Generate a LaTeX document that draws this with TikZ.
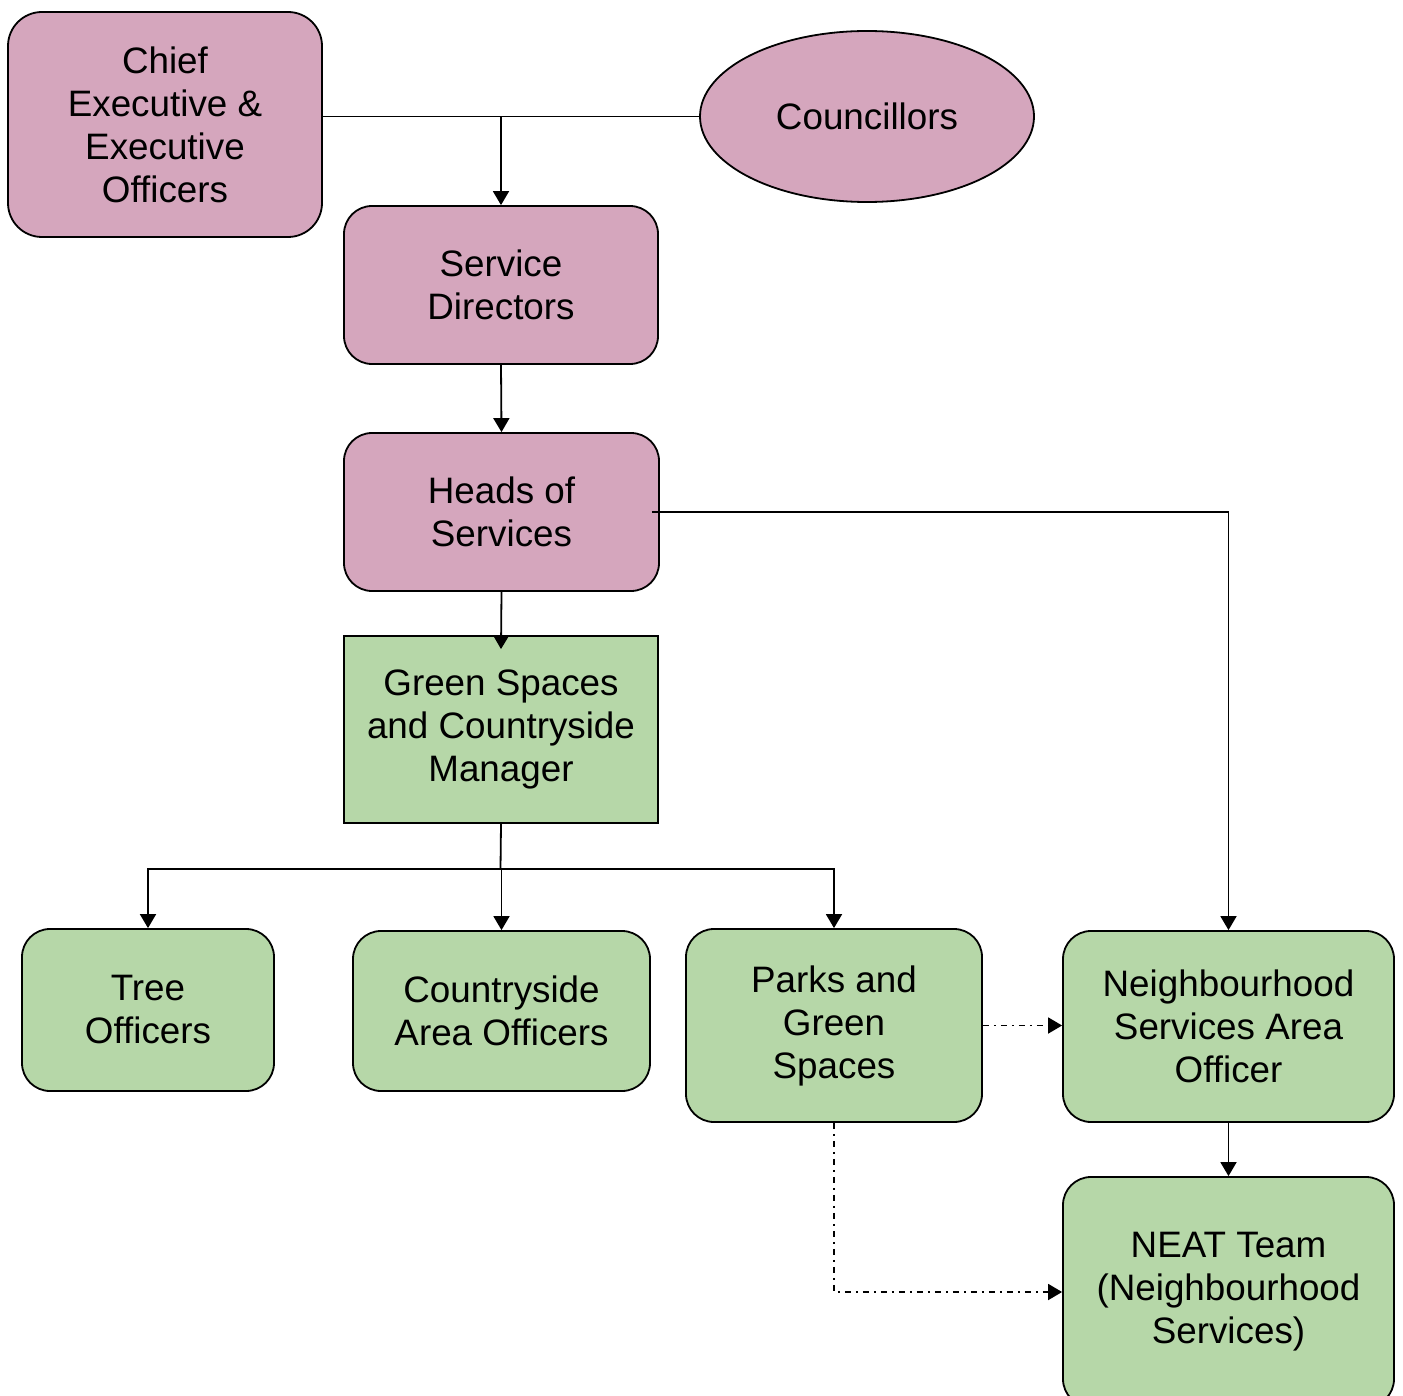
\documentclass[tikz,border=0pt]{standalone}
\usepackage{fontspec}
\setmainfont{Liberation Sans}
\usetikzlibrary{arrows.meta,shapes.geometric}

\definecolor{pinkbox}{HTML}{D5A6BD}
\definecolor{greenbox}{HTML}{B6D7A8}

\tikzset{
	box/.style={draw=black, line width=0.9pt, align=center, inner sep=0pt,
		font=\fontsize{18.4}{21.5}\selectfont},
	pinkrnd/.style={box, fill=pinkbox, rounded corners=14pt},
	greenrnd/.style={box, fill=greenbox, rounded corners=14pt},
	arr/.style={-{Triangle[length=7pt,width=8pt]}},
	dashdot/.style={dash pattern=on 3pt off 2.5pt on 1pt off 2.5pt},
}

\begin{document}
\begin{tikzpicture}[x=0.5pt, y=-0.5pt, line width=0.9pt]
		\useasboundingbox (0,0) rectangle (1403,1396);

		% Direction
		\node[pinkrnd, rounded corners=17pt, minimum width=157pt, minimum height=112.5pt] at (165,124.5) (chief) {Chief\\Executive \&\\Executive\\Officers};
		\node[box, fill=pinkbox, ellipse, minimum width=167pt, minimum height=85.5pt] at (867,116.5) (coun) {Councillors};
		\node[pinkrnd, minimum width=157pt, minimum height=79pt] at (501,285) (sdir) {Service\\Directors};
		\node[pinkrnd, minimum width=157.5pt, minimum height=79pt] at (501.5,512) (heads) {Heads of\\Services};

		% Espaces verts
		\node[box, fill=greenbox, minimum width=157pt, minimum height=93.5pt] at (501,729.5) (gsman) {Green Spaces\\and Countryside\\Manager};
		\node[greenrnd, minimum width=126pt, minimum height=81pt] at (148,1010) (tree) {Tree\\Officers};
		\node[greenrnd, minimum width=148.5pt, minimum height=80pt] at (501.5,1011) (cside) {Countryside\\Area Officers};
		\node[greenrnd, minimum width=148pt, minimum height=96.5pt] at (834,1025.5) (parks) {Parks and\\Green\\Spaces};

		% Quartiers
		\node[greenrnd, minimum width=165.5pt, minimum height=95.5pt] at (1228.5,1026.5) (nbhd) {Neighbourhood\\Services Area\\Officer};
		\node[greenrnd, minimum width=165.5pt, minimum height=115pt] at (1228.5,1292) (neat) {NEAT Team\\(Neighbourhood\\Services)};

		% Liens
		\coordinate (top) at (coun.west -| sdir.north);
		\coordinate (split) at (500.5,869);
		\draw (coun.west -| chief.east) -- (coun.west);
		\draw[arr] (top) -- (sdir.north);
		\draw[arr] (sdir.south) -- (heads.north);
		\draw[arr] (heads.south) -- ([yshift=-7pt]gsman.north);
		\draw[arr] ([xshift=-4pt]heads.east) -| (nbhd.north);
		\draw (gsman.south) -- (split);
		\draw[arr] (split) -| (tree.north);
		\draw[arr] (split) -| (cside.north);
		\draw[arr] (split) -| (parks.north);
		\draw[arr] (nbhd.south) -- (neat.north);
		\draw[arr, dashdot] (parks.east) -- (parks.east -| nbhd.west);
		\draw[arr, dashdot] (parks.south) |- (neat.west);

\end{tikzpicture}
\end{document}
